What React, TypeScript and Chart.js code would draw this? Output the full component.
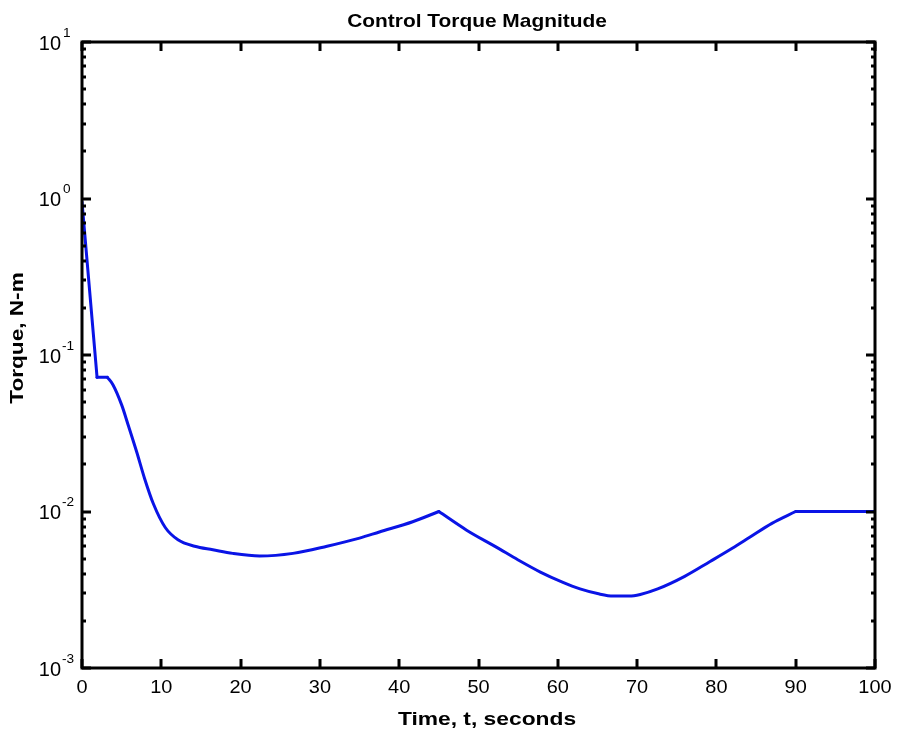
import React, { useEffect, useRef } from "react";
import { Chart, registerables } from "chart.js";

Chart.register(...registerables);

const TITLE = "Control Torque Magnitude";
const X_TITLE = "Time, t, seconds";
const Y_TITLE = "Torque, N-m";

const timeS = [0, 1.9, 3.2, 3.9, 5.0, 5.8, 6.9, 7.9, 9.0, 10.5, 12.1, 14.2, 16.5, 19, 22.4, 26.6, 30.9, 35, 37.5, 41.7, 45, 48.5, 52.3, 55, 57.8, 60.5, 62.8, 65, 67, 69, 70.4, 72.6, 76, 79.2, 82, 84.2, 87, 90, 95, 100];
const torque = [0.95, 0.072, 0.072, 0.0646, 0.048, 0.036, 0.024, 0.0162, 0.0112, 0.0079, 0.0066, 0.006, 0.0057, 0.0054, 0.0052, 0.0054, 0.006, 0.00676, 0.0074, 0.0086, 0.01, 0.0076, 0.0059, 0.0049, 0.0041, 0.00355, 0.0032, 0.00299, 0.00288, 0.00288, 0.00295, 0.0032, 0.00385, 0.00479, 0.00582, 0.00684, 0.0084, 0.01, 0.01, 0.01];
// indices where the curve has sharp corners (segments between them are smooth)
const cornerIdx = [0, 1, 2, 20, 37, 39];

const X_TICKS = [0, 10, 20, 30, 40, 50, 60, 70, 80, 90, 100];
const Y_DECADES = [-3, -2, -1, 0, 1];

const FONT = "'Liberation Sans', Arial, sans-serif";

function txt(ctx: CanvasRenderingContext2D, s: string, x: number, y: number, font: string, align: CanvasTextAlign, sx: number) {
  ctx.save();
  ctx.font = font;
  ctx.textAlign = align;
  ctx.textBaseline = "middle";
  ctx.translate(x, y);
  ctx.scale(sx, 1);
  ctx.fillText(s, 0, 0);
  ctx.restore();
}

export default function App() {
  const ref = useRef<HTMLCanvasElement>(null);
  useEffect(() => {
    const canvas = ref.current!;
    const framePlugin = {
      id: "frame",
      afterDraw(chart: any) {
        const ctx = chart.ctx as CanvasRenderingContext2D;
        const { left, right, top, bottom } = chart.chartArea;
        const xs = chart.scales.x;
        const ys = chart.scales.y;
        ctx.save();
        ctx.strokeStyle = "#000";
        ctx.fillStyle = "#000";
        ctx.lineWidth = 3;
        ctx.lineCap = "butt";
        ctx.strokeRect(left, top, right - left, bottom - top);
        ctx.beginPath();
        for (const v of X_TICKS) {
          const px = Math.round(xs.getPixelForValue(v));
          ctx.moveTo(px, bottom);
          ctx.lineTo(px, bottom - 9);
          ctx.moveTo(px, top);
          ctx.lineTo(px, top + 9);
        }
        for (const d of Y_DECADES) {
          const py = Math.round(ys.getPixelForValue(Math.pow(10, d)));
          ctx.moveTo(left, py);
          ctx.lineTo(left + 9, py);
          ctx.moveTo(right, py);
          ctx.lineTo(right - 9, py);
          if (d < 1) {
            for (let m = 2; m <= 9; m++) {
              const pm = Math.round(ys.getPixelForValue(m * Math.pow(10, d)));
              ctx.moveTo(left, pm);
              ctx.lineTo(left + 4, pm);
              ctx.moveTo(right, pm);
              ctx.lineTo(right - 4, pm);
            }
          }
        }
        ctx.stroke();
        for (const v of X_TICKS) {
          txt(ctx, String(v), xs.getPixelForValue(v), 688, `19px ${FONT}`, "center", 1.05);
        }
        for (const d of Y_DECADES) {
          const py = ys.getPixelForValue(Math.pow(10, d));
          txt(ctx, "10", 61, py + 2, `20px ${FONT}`, "right", 1.0);
          txt(ctx, String(d), d < 0 ? 62 : 63, py - 9, `13px ${FONT}`, "left", 1.05);
        }
        txt(ctx, TITLE, 477, 22, `bold 19px ${FONT}`, "center", 1.1);
        txt(ctx, X_TITLE, 487, 720, `bold 19px ${FONT}`, "center", 1.2);
        ctx.translate(18, 338);
        ctx.rotate(-Math.PI / 2);
        txt(ctx, Y_TITLE, 0, 0, `bold 19px ${FONT}`, "center", 1.19);
        ctx.restore();
      },
    };
    const points = timeS.map((t, i) => ({ x: t, y: torque[i] }));
    const datasets = [];
    for (let k = 0; k < cornerIdx.length - 1; k++) {
      const a = cornerIdx[k];
      const b = cornerIdx[k + 1];
      const seg = points.slice(a, b + 1);
      datasets.push({
        data: seg,
        borderColor: "#0a14e6",
        borderWidth: 3,
        pointRadius: 0,
        fill: false,
        borderJoinStyle: "round",
        borderCapStyle: "round",
        cubicInterpolationMode: seg.length > 2 ? "monotone" : "default",
        tension: 0,
      });
    }
    const chart = new Chart(canvas, {
      type: "line",
      data: { datasets: datasets as any },
      options: {
        animation: false,
        responsive: false,
        maintainAspectRatio: false,
        layout: { padding: { left: 82, right: 22, top: 42, bottom: 64 } },
        plugins: { legend: { display: false }, tooltip: { enabled: false }, title: { display: false } },
        scales: {
          x: { type: "linear", min: 0, max: 100, display: false },
          y: { type: "logarithmic", min: 0.001, max: 10, display: false },
        },
      },
      plugins: [framePlugin],
    });
    return () => chart.destroy();
  }, []);
  return (
    <div style={{ position: "fixed", left: 0, top: 0, width: 897, height: 732, background: "#fff" }}>
      <canvas ref={ref} width={897} height={732} style={{ width: 897, height: 732 }} />
    </div>
  );
}
